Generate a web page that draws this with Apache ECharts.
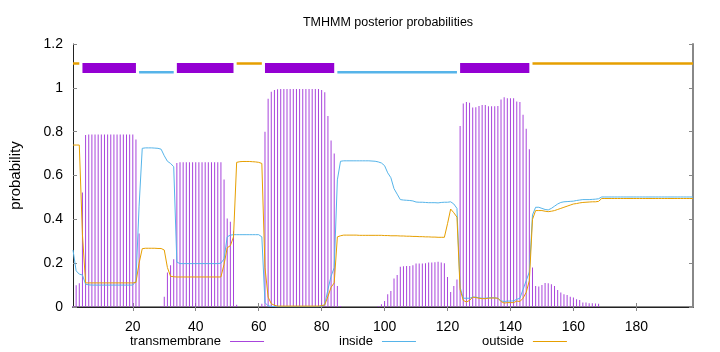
<!DOCTYPE html>
<html>
<head>
<meta charset="utf-8">
<title>TMHMM posterior probabilities</title>
<script src="https://cdn.jsdelivr.net/npm/echarts@6/dist/echarts.min.js"></script>
<style>
  html, body { margin: 0; padding: 0; background: #fff; }
  #chart { width: 720px; height: 352px; }
</style>
</head>
<body>
<div id="chart"></div>
<script>
// posterior probabilities per residue (1..198)
const transmembrane = [
  0.005, 0.099, 0.108, 0.523, 0.785, 0.787, 0.787, 0.787, 0.787, 0.787,
  0.787, 0.787, 0.787, 0.787, 0.787, 0.787, 0.787, 0.787, 0.787, 0.787,
  0.764, 0.335, 0, 0, 0, 0, 0, 0, 0.005, 0.047,
  0.157, 0.19, 0.218, 0.657, 0.66, 0.66, 0.66, 0.66, 0.66, 0.66,
  0.66, 0.66, 0.66, 0.66, 0.66, 0.66, 0.66, 0.66, 0.582, 0.404,
  0.389, 0.346, 0.01, 0, 0, 0, 0, 0, 0, 0,
  0.015, 0.8, 0.95, 0.982, 0.99, 0.994, 0.995, 0.995, 0.995, 0.995,
  0.995, 0.995, 0.995, 0.995, 0.995, 0.995, 0.995, 0.995, 0.995, 0.99,
  0.98, 0.872, 0.76, 0.70, 0.096, 0.005, 0, 0, 0, 0,
  0, 0, 0, 0, 0, 0, 0, 0.005, 0.012, 0.027,
  0.058, 0.073, 0.13, 0.146, 0.184, 0.186, 0.187, 0.187, 0.19, 0.198,
  0.198, 0.198, 0.2, 0.203, 0.203, 0.204, 0.206, 0.203, 0.2, 0.137,
  0.069, 0.096, 0.125, 0.826, 0.928, 0.935, 0.932, 0.91, 0.911, 0.917,
  0.922, 0.922, 0.916, 0.916, 0.916, 0.917, 0.947, 0.957, 0.953, 0.953,
  0.953, 0.938, 0.935, 0.877, 0.813, 0.72, 0.18, 0.096, 0.093, 0.1,
  0.11, 0.108, 0.104, 0.096, 0.078, 0.066, 0.058, 0.055, 0.047, 0.043,
  0.035, 0.032, 0.02, 0.02, 0.017, 0.017, 0.016, 0.015, 0, 0,
  0, 0, 0, 0, 0, 0, 0, 0, 0, 0,
  0, 0, 0, 0, 0, 0, 0, 0, 0, 0,
  0, 0, 0, 0, 0, 0, 0, 0
]

const inside = [
  0.26, 0.165, 0.15, 0.146, 0.104, 0.101, 0.1, 0.1, 0.1, 0.1,
  0.1, 0.1, 0.1, 0.1, 0.1, 0.1, 0.1, 0.1, 0.1, 0.1,
  0.12, 0.46, 0.724, 0.726, 0.726, 0.726, 0.725, 0.724, 0.72, 0.69,
  0.665, 0.655, 0.64, 0.205, 0.198, 0.198, 0.198, 0.198, 0.198, 0.198,
  0.198, 0.198, 0.198, 0.198, 0.198, 0.198, 0.198, 0.2, 0.22, 0.32,
  0.328, 0.33, 0.33, 0.33, 0.33, 0.33, 0.33, 0.33, 0.33, 0.33,
  0.32, 0.02, 0.005, 0.003, 0.002, 0.001, 0.001, 0.001, 0.001, 0.001,
  0.001, 0.001, 0.001, 0.001, 0.001, 0.001, 0.001, 0.001, 0.001, 0.004,
  0.01, 0.08, 0.14, 0.18, 0.58, 0.665, 0.667, 0.667, 0.667, 0.667,
  0.667, 0.667, 0.667, 0.667, 0.667, 0.666, 0.665, 0.662, 0.657, 0.645,
  0.612, 0.59, 0.54, 0.515, 0.49, 0.488, 0.487, 0.486, 0.484, 0.479,
  0.478, 0.478, 0.477, 0.476, 0.476, 0.476, 0.475, 0.477, 0.478, 0.478,
  0.48, 0.47, 0.45, 0.09, 0.04, 0.04, 0.04, 0.045, 0.045, 0.042,
  0.04, 0.04, 0.042, 0.042, 0.042, 0.04, 0.028, 0.025, 0.027, 0.027,
  0.028, 0.035, 0.04, 0.08, 0.12, 0.16, 0.42, 0.455, 0.455, 0.45,
  0.445, 0.443, 0.45, 0.46, 0.47, 0.477, 0.48, 0.481, 0.482, 0.483,
  0.486, 0.488, 0.49, 0.49, 0.49, 0.491, 0.492, 0.494, 0.502, 0.502,
  0.502, 0.502, 0.502, 0.502, 0.502, 0.502, 0.502, 0.502, 0.502, 0.502,
  0.502, 0.502, 0.502, 0.502, 0.502, 0.502, 0.502, 0.502, 0.502, 0.502,
  0.502, 0.502, 0.502, 0.502, 0.502, 0.502, 0.502, 0.502
]

const outside = [
  0.739, 0.739, 0.739, 0.33, 0.11, 0.11, 0.11, 0.11, 0.11, 0.11,
  0.11, 0.11, 0.11, 0.11, 0.11, 0.11, 0.11, 0.11, 0.11, 0.11,
  0.112, 0.2, 0.266, 0.268, 0.268, 0.268, 0.268, 0.267, 0.267, 0.26,
  0.18, 0.14, 0.138, 0.137, 0.137, 0.137, 0.137, 0.137, 0.137, 0.137,
  0.137, 0.137, 0.137, 0.137, 0.137, 0.137, 0.137, 0.137, 0.195, 0.27,
  0.28, 0.32, 0.66, 0.663, 0.664, 0.664, 0.664, 0.663, 0.662, 0.66,
  0.655, 0.18, 0.045, 0.015, 0.008, 0.004, 0.004, 0.004, 0.004, 0.004,
  0.004, 0.004, 0.004, 0.004, 0.004, 0.004, 0.004, 0.004, 0.004, 0.006,
  0.01, 0.048, 0.09, 0.11, 0.32, 0.325, 0.328, 0.328, 0.328, 0.328,
  0.328, 0.327, 0.327, 0.327, 0.327, 0.327, 0.327, 0.327, 0.327, 0.326,
  0.326, 0.325, 0.325, 0.325, 0.324, 0.324, 0.323, 0.323, 0.322, 0.322,
  0.321, 0.321, 0.32, 0.32, 0.319, 0.319, 0.318, 0.318, 0.318, 0.38,
  0.447, 0.43, 0.41, 0.08, 0.03, 0.023, 0.03, 0.045, 0.043, 0.04,
  0.038, 0.038, 0.04, 0.041, 0.041, 0.04, 0.025, 0.018, 0.02, 0.02,
  0.02, 0.027, 0.025, 0.04, 0.067, 0.12, 0.4, 0.44, 0.44, 0.44,
  0.437, 0.435, 0.437, 0.44, 0.445, 0.45, 0.455, 0.46, 0.465, 0.47,
  0.472, 0.475, 0.477, 0.478, 0.479, 0.48, 0.48, 0.482, 0.495, 0.495,
  0.495, 0.495, 0.495, 0.495, 0.495, 0.495, 0.495, 0.495, 0.495, 0.495,
  0.495, 0.495, 0.495, 0.495, 0.495, 0.495, 0.495, 0.495, 0.495, 0.495,
  0.495, 0.495, 0.495, 0.495, 0.495, 0.495, 0.495, 0.495
]

// predicted topology (start, end residue) shown along the top
const tmSegments = [[4, 21], [34, 52], [62, 84], [124, 146]]
const insideSegments = [[22, 33], [85, 123]]
const outsideSegments = [[1, 3], [53, 61], [147, 198]]
const tmLevel = 1.09
const insideLevel = 1.071
const outsideLevel = 1.111

const xTicks = [20, 40, 60, 80, 100, 120, 140, 160, 180]
const seqLength = 198

const COLORS = {
  tm: '#9400d3',
  tmBar: '#a844dc',
  inside: '#56b4e9',
  outside: '#e69f00'
}
const FONT = "'Liberation Sans', Arial, sans-serif"

const toPoints = (arr) => arr.map((v, i) => [i + 1, v])

const segmentSeries = (segs, level, color, width, name) =>
  segs.map(([s, e]) => ({
    name: name,
    type: 'line',
    data: [[s, level], [e, level]],
    showSymbol: false,
    silent: true,
    z: 5,
    lineStyle: { color: color, width: width, cap: 'butt' }
  }))

const chart = echarts.init(document.getElementById('chart'), null, { renderer: 'canvas' })

const tickStyle = { show: true, inside: true, length: 4, lineStyle: { color: '#888', width: 1 } }

const legendBase = {
  top: 330,
  align: 'right',
  icon: 'rect',
  itemWidth: 34,
  itemHeight: 1,
  selectedMode: false,
  textStyle: { fontFamily: FONT, fontSize: 13, color: '#000', padding: [0, 4, 0, 0] }
}

const option = {
  animation: false,
  backgroundColor: '#fff',
  title: {
    text: 'TMHMM posterior probabilities',
    left: 383,
    textAlign: 'center',
    top: 11,
    textStyle: { fontFamily: FONT, fontSize: 12.5, fontWeight: 'normal', color: '#000' }
  },
  legend: [
    { ...legendBase, left: 125, data: ['transmembrane'] },
    { ...legendBase, left: 334, data: ['inside'] },
    { ...legendBase, left: 477, data: ['outside'] }
  ],
  grid: { left: 73, right: 27, top: 44, bottom: 45, containLabel: false },
  xAxis: [
    {
      type: 'value',
      min: 1,
      max: seqLength,
      axisLine: { show: true, lineStyle: { color: '#888', width: 2 } },
      axisTick: { ...tickStyle, customValues: xTicks },
      axisLabel: { customValues: xTicks, margin: 13, fontFamily: FONT, fontSize: 14, color: '#000' },
      splitLine: { show: false }
    },
    {
      type: 'value',
      position: 'top',
      min: 1,
      max: seqLength,
      axisLine: { show: true, lineStyle: { color: '#222', width: 1 } },
      axisTick: { ...tickStyle, customValues: xTicks },
      axisLabel: { show: false },
      splitLine: { show: false }
    }
  ],
  yAxis: [
    {
      type: 'value',
      min: 0,
      max: 1.2,
      interval: 0.2,
      name: 'probability',
      nameLocation: 'middle',
      nameRotate: 90,
      nameGap: 50,
      nameTextStyle: { fontFamily: FONT, fontSize: 15, color: '#000' },
      axisLine: { show: true, lineStyle: { color: '#222', width: 1 } },
      axisTick: tickStyle,
      axisLabel: { margin: 10, fontFamily: FONT, fontSize: 14, color: '#000' },
      splitLine: { show: false }
    },
    {
      type: 'value',
      position: 'right',
      min: 0,
      max: 1.2,
      interval: 0.2,
      axisLine: { show: true, lineStyle: { color: '#888', width: 2 } },
      axisTick: tickStyle,
      axisLabel: { show: false },
      splitLine: { show: false }
    }
  ],
  series: [
    {
      name: 'transmembrane',
      type: 'bar',
      data: toPoints(transmembrane),
      barWidth: 1,
      z: 1,
      itemStyle: { color: COLORS.tmBar }
    },
    {
      name: 'inside',
      type: 'line',
      data: toPoints(inside),
      showSymbol: false,
      z: 3,
      itemStyle: { color: COLORS.inside },
      lineStyle: { color: COLORS.inside, width: 1 }
    },
    {
      name: 'outside',
      type: 'line',
      data: toPoints(outside),
      showSymbol: false,
      z: 4,
      itemStyle: { color: COLORS.outside },
      lineStyle: { color: COLORS.outside, width: 1 }
    },
    ...segmentSeries(outsideSegments, outsideLevel, COLORS.outside, 2.5, 'outside-top'),
    ...segmentSeries(insideSegments, insideLevel, COLORS.inside, 2.5, 'inside-top'),
    ...segmentSeries(tmSegments, tmLevel, COLORS.tm, 10, 'tm-top')
  ]
}

chart.setOption(option)
</script>
</body>
</html>
